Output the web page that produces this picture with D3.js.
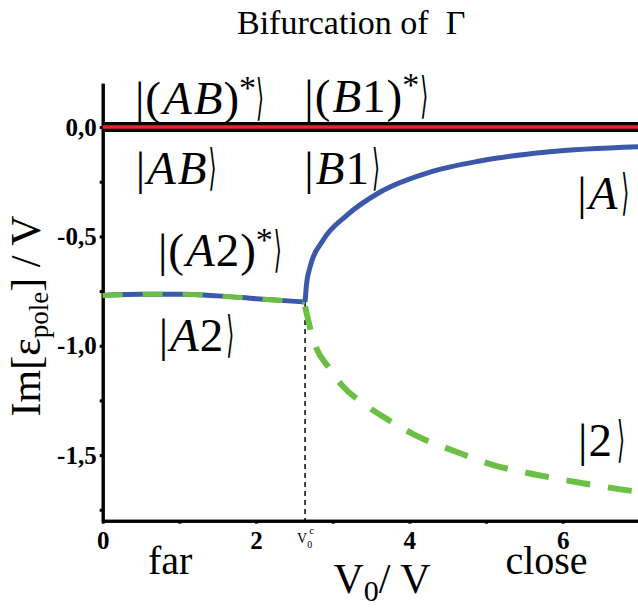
<!DOCTYPE html>
<meta charset="utf-8">
<style>
body { margin: 0; background: #fff; }
svg text { font-family: "Liberation Serif", "DejaVu Serif", serif; fill: #000; }
.axis path, .axis line { stroke: #000; stroke-width: 3; }
</style>
<body>
<script src="https://cdn.jsdelivr.net/npm/d3@7"></script>
<script>

// --- values ---
var xMajor = [0, 2, 4, 6],
    xMinor = [1, 3, 5, 7],
    yMajor = [0, -0.5, -1, -1.5],
    yMinor = [-0.25, -0.75, -1.25, -1.75];

var vCrit = 2.64;

// Gamma = 0 lines (|AB>, |B1> and their conjugates)
var zeroX = [0, 7],
    zeroY = [0, 0];

// |A2> / |(A2)*> before the bifurcation (blue + green on top)
var flatX = [0, 0.5, 1.0, 1.5, 2.0, 2.64],
    flatY = [-0.770, -0.765, -0.765, -0.772, -0.785, -0.800];

// |A> branch after V0c (blue)
var branchAX = [2.64, 2.66, 2.705, 2.87, 3.18, 3.62, 4.27, 4.92, 5.80, 7.0],
    branchAY = [-0.800, -0.715, -0.640, -0.520, -0.405, -0.297, -0.206, -0.155, -0.114, -0.090];

// |2> branch after V0c (green dashed)
var branch2X = [2.64, 2.745, 2.965, 3.12, 3.45, 3.75, 4.05, 4.62, 5.14, 5.48, 6.32, 6.91, 7.0],
    branch2Y = [-0.82, -0.97, -1.107, -1.18, -1.276, -1.344, -1.404, -1.486, -1.55, -1.577, -1.632, -1.664, -1.668];

// state labels, anchored in data units (left edge, baseline)
var ketNames = ["(AB)*", "(B1)*", "AB", "B1", "(A2)*", "A2", "A", "2"],
    ketX = [0.42, 2.63, 0.43, 2.63, 0.72, 0.73, 6.19, 6.20],
    ketY = [0.06, 0.07, -0.26, -0.26, -0.635, -1.024, -0.375, -1.504];

var W = 638, H = 610;

var svg = d3.select("body").append("svg")
    .attr("width", W)
    .attr("height", H);

var x = d3.scaleLinear().domain([0, 7]).range([102.7, 639.3]),
    y = d3.scaleLinear().domain([-1.8, 0.2]).range([520.7, 83.3]);

var fmtY = function(d) { return d3.format(".1f")(d).replace(".", ",").replace("\u2212", "-"); };

// minor ticks first (no labels)
svg.append("g")
    .attr("class", "axis")
    .attr("transform", "translate(0," + y(-1.8) + ")")
    .call(d3.axisBottom(x).tickValues(xMinor).tickSize(3).tickSizeOuter(0).tickFormat(""));
svg.append("g")
    .attr("class", "axis")
    .attr("transform", "translate(" + x(0) + ",0)")
    .call(d3.axisLeft(y).tickValues(yMinor).tickSize(3).tickSizeOuter(0).tickFormat(""));

// major axes
var gx = svg.append("g")
    .attr("class", "axis")
    .attr("transform", "translate(0," + y(-1.8) + ")")
    .call(d3.axisBottom(x).tickValues(xMajor).tickSize(3).tickSizeOuter(0).tickPadding(8).tickFormat(d3.format("d")));
var gy = svg.append("g")
    .attr("class", "axis")
    .attr("transform", "translate(" + x(0) + ",0)")
    .call(d3.axisLeft(y).tickValues(yMajor).tickSize(3).tickSizeOuter(0).tickPadding(3).tickFormat(fmtY));

[gx, gy].forEach(function(g) {
  g.selectAll("text")
      .style("font-family", "Liberation Serif, serif")
      .style("font-weight", "bold")
      .style("font-size", "25px");
});

var line = function(xs, ys, curve) {
  return d3.line()
      .x(function(d, i) { return x(xs[i]); })
      .y(function(d, i) { return y(ys[i]); })
      .curve(curve || d3.curveMonotoneX)(xs);
};

// zero line: thick black with red on it
svg.append("path")
    .attr("d", line(zeroX, zeroY, d3.curveLinear))
    .attr("fill", "none").attr("stroke", "#000").attr("stroke-width", 10);
svg.append("path")
    .attr("d", line(zeroX, zeroY, d3.curveLinear))
    .attr("fill", "none").attr("stroke", "#e8252b").attr("stroke-width", 3.5);

// critical V0 dotted line
svg.append("line")
    .attr("x1", x(vCrit)).attr("x2", x(vCrit))
    .attr("y1", y(-0.80)).attr("y2", y(-1.8))
    .attr("stroke", "#000").attr("stroke-width", 1.5)
    .attr("stroke-dasharray", "5,4");

var blue = "#3b58aa", green = "#6cbf45";

svg.append("path")
    .attr("d", line(flatX, flatY))
    .attr("fill", "none").attr("stroke", blue).attr("stroke-width", 5);
svg.append("path")
    .attr("d", line(flatX, flatY))
    .attr("fill", "none").attr("stroke", green).attr("stroke-width", 5)
    .attr("stroke-dasharray", "20,20");

svg.append("path")
    .attr("d", line(branchAX, branchAY))
    .attr("fill", "none").attr("stroke", blue).attr("stroke-width", 5);

svg.append("path")
    .attr("d", line(branch2X, branch2Y))
    .attr("fill", "none").attr("stroke", green).attr("stroke-width", 6)
    .attr("stroke-dasharray", "24,18");

// kets: |...> ; the closing bracket is a narrowed glyph placed after the measured text
ketNames.forEach(function(name, i) {
  var x0 = x(ketX[i]), y0 = y(ketY[i]);
  var t = svg.append("text")
      .attr("x", x0)
      .attr("y", y0)
      .style("font-size", "47px");
  t.append("tspan").text("|");
  name.split("").forEach(function(c) {
    if (c === "*") {
      t.append("tspan").attr("dy", "-0.45em").style("font-size", "34px").text("*");
      t.append("tspan").attr("dy", "0.45em").text("");
    } else if (/[A-Z]/.test(c)) {
      t.append("tspan").style("font-style", "italic").attr("dx", 2).text(c);
    } else {
      t.append("tspan").attr("dx", 1).text(c);
    }
  });
  var len = t.node().getComputedTextLength();
  svg.append("text")
      .attr("transform", "translate(" + (x0 + len + 6) + "," + y0 + ") scale(0.5,1.2)")
      .style("font-family", "DejaVu Sans")
      .style("font-size", "41px")
      .text("\u27E9");
});

// title
svg.append("text")
    .attr("x", 237).attr("y", 34)
    .style("font-size", "34px")
    .text("Bifurcation of \u00A0\u0393");

// y label
var yl = svg.append("text")
    .attr("transform", "translate(40," + 316 + ") rotate(-90)")
    .attr("text-anchor", "middle")
    .style("font-size", "42px");
yl.append("tspan").text("Im[\u03B5");
yl.append("tspan").attr("dy", "0.3em").style("font-size", "27px").text("pole");
yl.append("tspan").attr("dy", "-0.2em").text("] / V");

// x label
var xl = svg.append("text")
    .attr("x", 382).attr("y", 593)
    .attr("text-anchor", "middle")
    .style("font-size", "42px");
xl.append("tspan").text("V");
xl.append("tspan").attr("dy", "0.28em").style("font-size", "30px").text("0");
xl.append("tspan").attr("dy", "-0.2em").text("/ V");

svg.append("text")
    .attr("x", x(0.88)).attr("y", 574)
    .attr("text-anchor", "middle")
    .style("font-size", "40px")
    .text("far");
svg.append("text")
    .attr("x", x(5.79)).attr("y", 574)
    .attr("text-anchor", "middle")
    .style("font-size", "40px")
    .text("close");

// V0^c mark under the axis
var vc = svg.append("text")
    .attr("x", x(vCrit) - 8).attr("y", 543)
    .style("font-size", "14px");
vc.append("tspan").text("V");
vc.append("tspan").attr("dy", 5).style("font-size", "10px").text("0");
vc.append("tspan").attr("dx", -3).attr("dy", -14).style("font-size", "11px").text("c");

</script>
